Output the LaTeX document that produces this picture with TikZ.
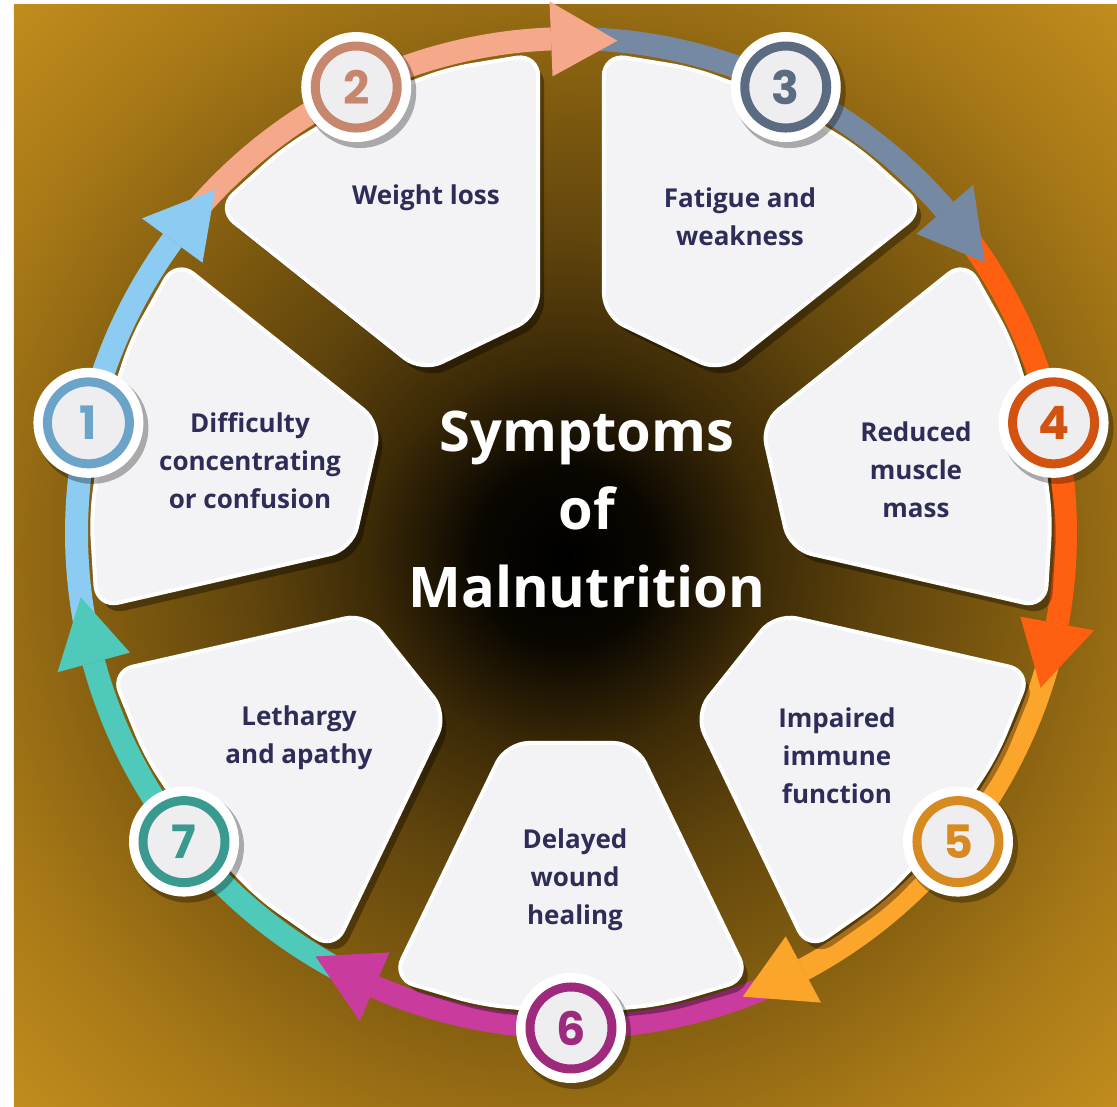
\documentclass[tikz,border=0pt]{standalone}
\usepackage{fontspec}
\setmainfont{Open Sans}
\newfontfamily\digitfont{Poppins}

\definecolor{bg0}{RGB}{0,0,0}
\definecolor{bg1}{RGB}{10,7,1}
\definecolor{bg2}{RGB}{60,42,7}
\definecolor{bg3}{RGB}{95,68,12}
\definecolor{bg4}{RGB}{132,94,16}
\definecolor{bg5}{RGB}{168,121,23}
\definecolor{bg6}{RGB}{196,142,30}
\definecolor{band1}{HTML}{8CCBF2}
\definecolor{band2}{HTML}{F6A98A}
\definecolor{band3}{HTML}{7689A3}
\definecolor{band4}{HTML}{FF5F10}
\definecolor{band5}{HTML}{FBA52B}
\definecolor{band6}{HTML}{C93C9E}
\definecolor{band7}{HTML}{4FC9B9}
\definecolor{ring1}{HTML}{6BA3C9}
\definecolor{ring2}{HTML}{C7876E}
\definecolor{ring3}{HTML}{5A6B82}
\definecolor{ring4}{HTML}{D2520F}
\definecolor{ring5}{HTML}{D68A1F}
\definecolor{ring6}{HTML}{9E2A7E}
\definecolor{ring7}{HTML}{3B9A8F}
\definecolor{cardfill}{HTML}{F3F3F5}
\definecolor{discfill}{HTML}{EEEEF1}
\definecolor{ink}{HTML}{2E2D58}

\pgfdeclareradialshading{bgglow}{\pgfpoint{0bp}{0bp}}{color(0bp)=(bg0); color(90bp)=(bg1); color(195bp)=(bg2); color(312bp)=(bg3); color(470bp)=(bg4); color(625bp)=(bg5); color(790bp)=(bg6)}

\begin{document}
\begin{tikzpicture}[x=1pt, y=1pt,
    card/.style={fill=cardfill, draw=white, line width=4pt, rounded corners=22pt},
    cardshadow/.style={fill=black, opacity=.35, rounded corners=22pt},
    cardtext/.style={text=ink, font=\bfseries\fontsize{26}{38}\selectfont, align=center, inner sep=0pt},
    title/.style={text=white, font=\bfseries\fontsize{56}{78}\selectfont, align=center, inner sep=0pt},
    numring/.style={circle, fill=discfill, line width=9pt, minimum size=82pt, inner sep=0pt, font=\digitfont\bfseries\fontsize{46}{46}\selectfont}]

\fill[white] (-571,-574) rectangle (546,533);
\useasboundingbox (-571,-574) rectangle (546,533);
\begin{scope}
    \clip (-557,-574) rectangle (546,528);
    \pgftext[at=\pgfpoint{-5.5pt}{-23pt}]{\pgfuseshading{bgglow}}
\end{scope}

\foreach \k/\col in {1/band1, 2/band2, 3/band3, 4/band4, 5/band5, 6/band6, 7/band7} {
    \pgfmathsetmacro\ang{218.5714-51.4286*\k}
    \pgfmathsetmacro\tail{\ang+24.4}
    \pgfmathsetmacro\notch{\ang+20.4}
    \pgfmathsetmacro\base{\ang-23.4}
    \fill[\col] (\tail:506) arc[start angle=\tail, end angle=\base, radius=506] -- (\base:483)
        arc[start angle=\base, end angle=\tail, radius=483] -- (\notch:494.5) -- cycle;
}
\foreach \k/\col in {1/band1, 2/band2, 3/band3, 4/band4, 5/band5, 6/band6, 7/band7} {
    \pgfmathsetmacro\ang{218.5714-51.4286*\k}
    \pgfmathsetmacro\base{\ang-23.4}
    \pgfmathsetmacro\tip{\ang-31.1}
    \fill[\col] (\base:457) -- (\base:532) -- (\tip:494.5) -- cycle;
}

\foreach \k in {1,...,7} {
    \pgfmathsetmacro\ang{218.5714-51.4286*\k}
    \fill[cardshadow, shift={(6,-8)}, rotate=\ang] (210,-64.5) -- (-21.8:480) -- (-11:480) -- (0:480)
        -- (11:480) -- (21.8:480) -- (210,64.5) -- cycle;
    \filldraw[card, rotate=\ang] (210,-64.5) -- (-21.8:480) -- (-11:480) -- (0:480)
        -- (11:480) -- (21.8:480) -- (210,64.5) -- cycle;
}

\node[cardtext] (s1) at (-321,72) {Difficulty\\concentrating\\or confusion};
\node[cardtext] (s2) at (-145,335) {Weight loss};
\node[cardtext] (s3) at (169,316) {Fatigue and\\weakness};
\node[cardtext] (s4) at (345,63) {Reduced\\muscle\\mass};
\node[cardtext] (s5) at (266,-223) {Impaired\\immune\\function};
\node[cardtext] (s6) at (4,-347) {Delayed\\wound\\healing};
\node[cardtext] (s7) at (-272,-205) {Lethargy\\and apathy};

\foreach \k/\ring in {1/ring1, 2/ring2, 3/ring3, 4/ring4, 5/ring5, 6/ring6, 7/ring7} {
    \pgfmathsetmacro\ang{218.5714-51.4286*\k}
    \fill[black, opacity=.3] ([shift={(4,-5)}]\ang:495) circle[radius=56];
    \fill[white] (\ang:495) circle[radius=55];
    \node[numring, draw=\ring, text=\ring] (\k) at (\ang:495) {\k};
}

\node[title] (head) at (16,23.5) {Symptoms\\of\\Malnutrition};
\end{tikzpicture}
\end{document}
